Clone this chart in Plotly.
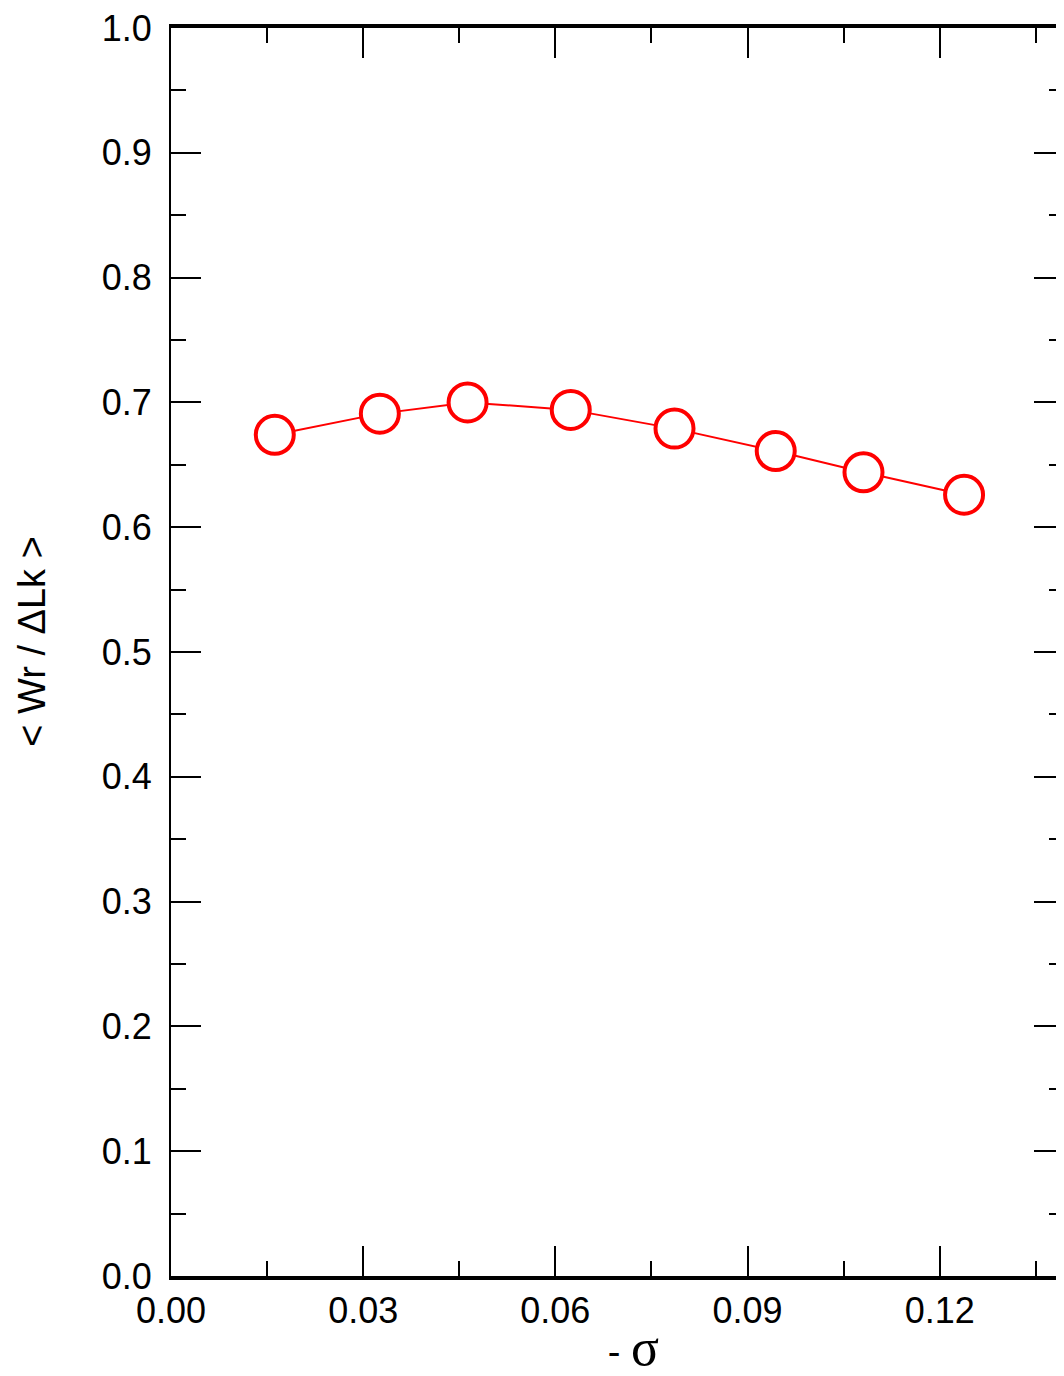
import plotly.graph_objects as go

# Data
sigma_neg = [0.0162, 0.0326, 0.0463, 0.0624, 0.0786, 0.0944, 0.1081, 0.1238]
wr_over_dlk = [0.674, 0.691, 0.700, 0.694, 0.679, 0.661, 0.644, 0.626]

x_range = [0, 0.1394]
y_range = [0, 1.0]

RED = "#ff0000"
FONT = "Liberation Sans, Arial, Helvetica, sans-serif"

fig = go.Figure()
fig.add_trace(go.Scatter(
    x=sigma_neg, y=wr_over_dlk,
    mode="lines+markers",
    line=dict(color=RED, width=2),
    marker=dict(symbol="circle", size=38, color="white",
                line=dict(color=RED, width=4)),
    showlegend=False, hoverinfo="x+y",
))
# empty trace so the right-side tick axis is drawn
fig.add_trace(go.Scatter(x=[], y=[], yaxis="y2", showlegend=False, hoverinfo="skip"))

# page body has an 8px margin: figure is sized so the plot lands where the reference has it
fig.update_layout(
    width=1056, height=1368,
    margin=dict(l=163, r=0, t=16, b=100),
    paper_bgcolor="white", plot_bgcolor="white",
    font=dict(family=FONT, size=36, color="black"),
    xaxis=dict(
        range=x_range, dtick=0.03, tick0=0, tickformat=".2f",
        showgrid=False, zeroline=False,
        showline=True, linecolor="black", linewidth=4, mirror="ticks",
        ticks="inside", ticklen=30, tickwidth=2, tickcolor="black",
        minor=dict(dtick=0.015, ticks="inside", ticklen=15, tickwidth=2,
                   tickcolor="black", showgrid=False),
        ticklabelstandoff=0, ticklabeloverflow="allow",
        tickfont=dict(size=36),
        title=dict(text="&nbsp;&nbsp;&nbsp;- <span style='font-family:Liberation Serif;font-size:52px'>σ</span>",
                   font=dict(size=38), standoff=18),
    ),
    yaxis=dict(
        range=y_range, dtick=0.1, tick0=0, tickformat=".1f",
        showgrid=False, zeroline=False,
        showline=True, linecolor="black", linewidth=2, mirror=False,
        ticks="inside", ticklen=30, tickwidth=2, tickcolor="black",
        minor=dict(dtick=0.05, ticks="inside", ticklen=15, tickwidth=2,
                   tickcolor="black", showgrid=False),
        ticklabelstandoff=10, ticklabeloverflow="allow",
        tickfont=dict(size=36),
        title=dict(text="&nbsp;&nbsp;< Wr / ΔLk >", font=dict(size=38), standoff=44),
    ),
    yaxis2=dict(
        range=y_range, dtick=0.1, tick0=0, overlaying="y", side="right",
        showgrid=False, zeroline=False, showline=False, showticklabels=False,
        ticks="inside", ticklen=30, tickwidth=2, tickcolor="black",
        minor=dict(dtick=0.05, ticks="inside", ticklen=15, tickwidth=2,
                   tickcolor="black", showgrid=False),
    ),
)

fig.write_html("out.html")
